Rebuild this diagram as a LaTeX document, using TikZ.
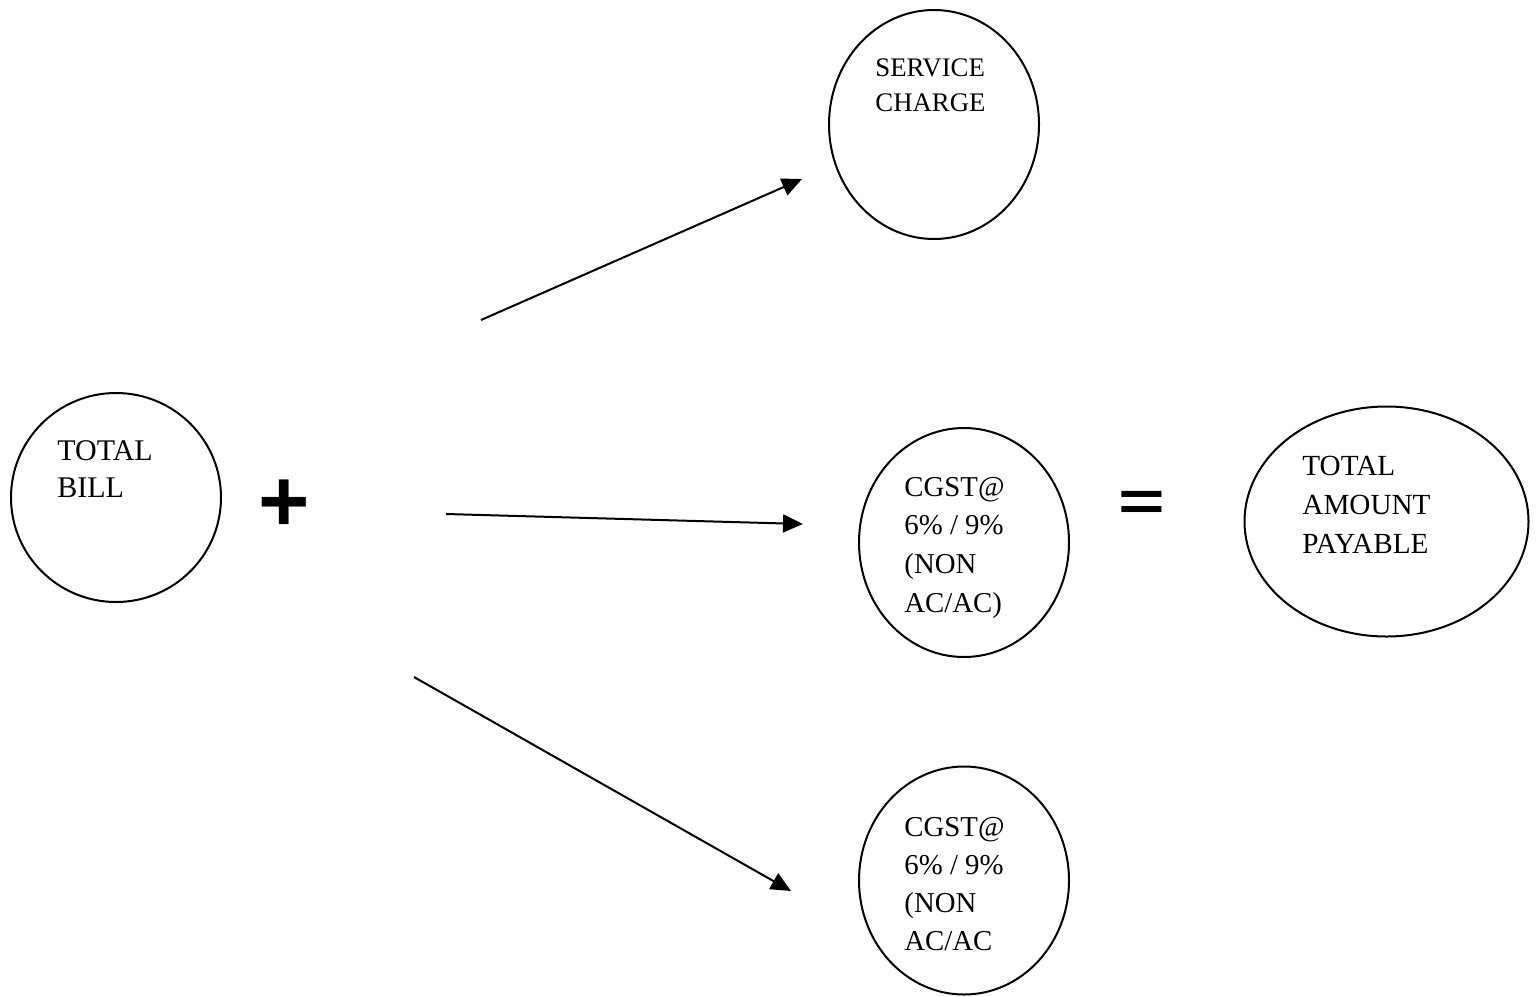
\documentclass[tikz,border=0pt]{standalone}
\usepackage{fontspec}
\setmainfont{Liberation Serif}
\newfontfamily\opfont{Liberation Sans}
\usetikzlibrary{shapes.geometric,arrows.meta}
\begin{document}
\begin{tikzpicture}[x=0.5pt,y=-0.5pt,
  bubble/.style={draw=black,line width=1pt,ellipse,inner sep=0pt},
  lbl/.style={anchor=base west,align=left,inner sep=0pt},
  arr/.style={line width=1pt,-{Triangle[length=10pt,width=9pt]}},
  opsym/.style={inner sep=0pt,font=\opfont\bfseries}]
\useasboundingbox (0,0) rectangle (1540,996);
% ellipses
\node[bubble,minimum width=105pt,minimum height=104.5pt] (bill) at (116,497.5) {};
\node[bubble,minimum width=105pt,minimum height=114.5pt] (serv) at (934,124.5) {};
\node[bubble,minimum width=105pt,minimum height=114.5pt] (cgst) at (964,542.5) {};
\node[bubble,minimum width=142pt,minimum height=115pt] (total) at (1386.5,521.5) {};
\node[bubble,minimum width=105pt,minimum height=114pt] (sgst) at (964,880.5) {};
% labels (anchored at the baseline of the last line)
\node[lbl,font=\fontsize{15}{18.5}\selectfont] (billt) at (57,497) {TOTAL\\BILL};
\node[lbl,font=\fontsize{13.4}{17.5}\selectfont] (servt) at (875,111) {SERVICE\\CHARGE};
\node[lbl,font=\fontsize{14.4}{19.3}\selectfont] (cgstt) at (904,612) {CGST@\\6\% / 9\%\\(NON\\AC/AC)};
\node[lbl,font=\fontsize{14.6}{19.5}\selectfont] (totalt) at (1302,553) {TOTAL\\AMOUNT\\PAYABLE};
\node[lbl,font=\fontsize{14.4}{19}\selectfont] (sgstt) at (904,950) {CGST@\\6\% / 9\%\\(NON\\AC/AC};
% operators
\node[opsym,font=\opfont\bfseries\fontsize{44}{44}\selectfont] (plus) at (284,506) {+};
\node[opsym,font=\opfont\bfseries\fontsize{40}{40}\selectfont] (eq) at (1142,506) {\scalebox{1}[0.7]{=}};
% arrows
\coordinate (s1) at (481,320); \coordinate (e1) at (802,179);
\coordinate (s2) at (446,514); \coordinate (e2) at (803,524);
\coordinate (s3) at (414,677); \coordinate (e3) at (791,891);
\draw[arr] (s1) -- (e1);
\draw[arr] (s2) -- (e2);
\draw[arr] (s3) -- (e3);
\end{tikzpicture}
\end{document}
